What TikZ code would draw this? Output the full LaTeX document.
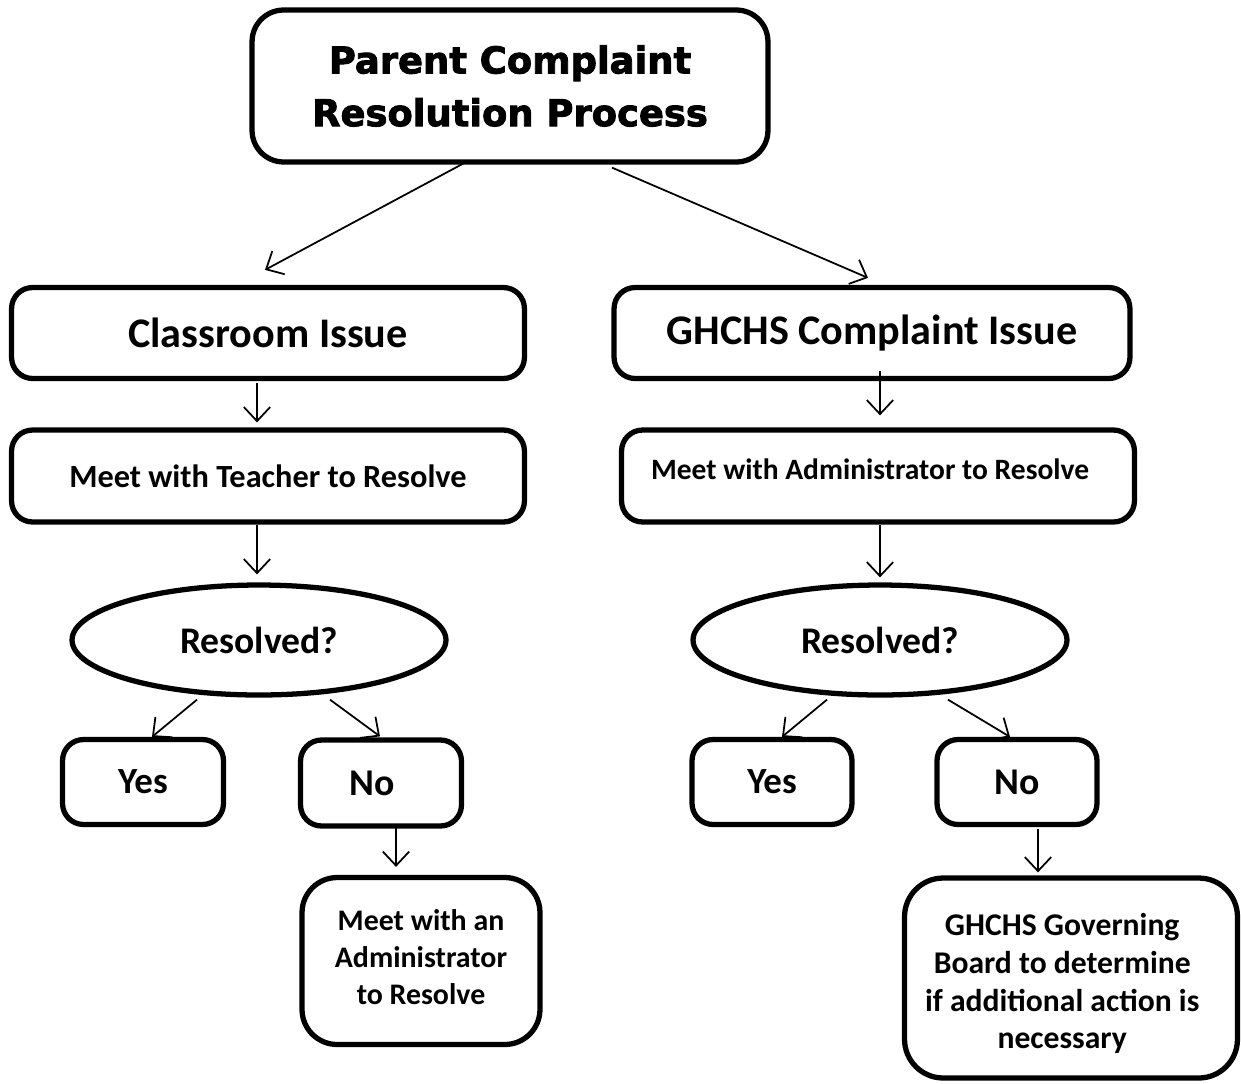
\documentclass[tikz,border=0pt]{standalone}
\usepackage{fontspec}
\setmainfont{Carlito}
\newfontfamily\titlefont[FakeBold=2.4]{DejaVu Sans Bold}
\usetikzlibrary{calc, arrows.meta, shapes.geometric}
\tikzset{
  box/.style={draw, line width=3pt, rounded corners=12pt, align=center, inner sep=0pt},
  query/.style={draw, ellipse, line width=3pt, inner sep=0pt,
    minimum width=7.48cm, minimum height=2.2cm, font=\bfseries\fontsize{21.4}{24}\selectfont},
  flow/.style={->, line width=1pt},
  >={Straight Barb[length=8pt,width=15pt]}
}

\begin{document}
\begin{tikzpicture}[x=0.02cm, y=-0.02cm]
\useasboundingbox (0,0) rectangle (1241,1083);
\node[box, rounded corners=18pt, minimum width=10.32cm, minimum height=3.04cm,
  font=\titlefont\fontsize{21}{30}\selectfont] (title) at (510,86) {Parent Complaint\\Resolution Process};
\node[box, minimum width=10.26cm, minimum height=1.82cm, font=\bfseries\fontsize{24}{28}\selectfont] (cls) at (268,333) {Classroom Issue};
\node[box, minimum width=10.32cm, minimum height=1.82cm, font=\bfseries\fontsize{24}{28}\selectfont] (sch) at (872,333) {GHCHS Complaint Issue};
\node[box, minimum width=10.26cm, minimum height=1.84cm, font=\bfseries\fontsize{18.4}{22}\selectfont] (teacher) at (268,476) {Meet with Teacher to Resolve};
\node[box, minimum width=10.26cm, minimum height=1.84cm, font=\bfseries\fontsize{16.8}{20}\selectfont,
  text height=10.8pt, text depth=6.8pt] (admin) at (878,476) {Meet with Administrator to Resolve\hspace*{9pt}};
\node[query] (resL) at (259,640) {Resolved?};
\node[query] (resR) at (880,640) {Resolved?};
\node[box, minimum width=3.22cm, minimum height=1.7cm, font=\bfseries\fontsize{21}{24}\selectfont] (yesL) at (143,782) {Yes};
\node[box, minimum width=3.22cm, minimum height=1.72cm, font=\bfseries\fontsize{21.5}{24}\selectfont] (noL) at (381,783) {No\hspace*{10pt}};
\node[box, minimum width=3.2cm, minimum height=1.7cm, font=\bfseries\fontsize{21}{24}\selectfont] (yesR) at (772,782) {Yes};
\node[box, minimum width=3.2cm, minimum height=1.7cm, font=\bfseries\fontsize{21.5}{24}\selectfont] (noR) at (1017,782) {No};
\node[box, rounded corners=20pt, minimum width=4.76cm, minimum height=3.34cm,
  font=\bfseries\fontsize{17}{21}\selectfont, text height=49.4pt, text depth=0pt] (adminL) at (421,961) {Meet with an\\Administrator\\to Resolve};
\node[box, rounded corners=22pt, minimum width=6.66cm, minimum height=4cm,
  font=\bfseries\fontsize{18}{21.5}\selectfont, text height=80.8pt, text depth=0pt] (board) at (1071,978)
  {GHCHS Governing\rule{10pt}{0pt}\\Board to determine\rule{10pt}{0pt}\\if additional action is\rule{10pt}{0pt}\\necessary\rule{10pt}{0pt}};
% connectors
\draw[flow] ($(title.south)+(-45,-2)$) -- ($(cls.north)+(-3,-15)$);
\draw[flow] ($(title.south)+(102,3)$) -- ($(sch.north)+(-4,-7)$);
\draw[flow] ($(cls.south)+(-11,2)$) -- ($(teacher.north)+(-11,-5)$);
\draw[flow] ($(sch.south)+(8,-10)$) -- ($(admin.north)+(2,-12)$);
\draw[flow] ($(teacher.south)+(-11,0)$) -- ($(resL.north)+(-2,-8)$);
\draw[flow] ($(admin.south)+(2,0)$) -- ($(resR.north)+(0,-5)$);
\draw[flow] ($(resL.south)+(-62,2)$) -- ($(yesL.north)+(9,0)$);
\draw[flow] ($(resL.south)+(71,2)$) -- ($(noL.north)+(-1,-1)$);
\draw[flow] ($(resR.south)+(-53,2)$) -- ($(yesR.north)+(10,0)$);
\draw[flow] ($(resR.south)+(68,2)$) -- ($(noR.north)+(-7,0)$);
\draw[flow] ($(noL.south)+(15,-1)$) -- ($(adminL.north)+(-25,-8)$);
\draw[flow] ($(noR.south)+(21,2)$) -- ($(board.north)+(-33,-3)$);
\end{tikzpicture}
\end{document}
